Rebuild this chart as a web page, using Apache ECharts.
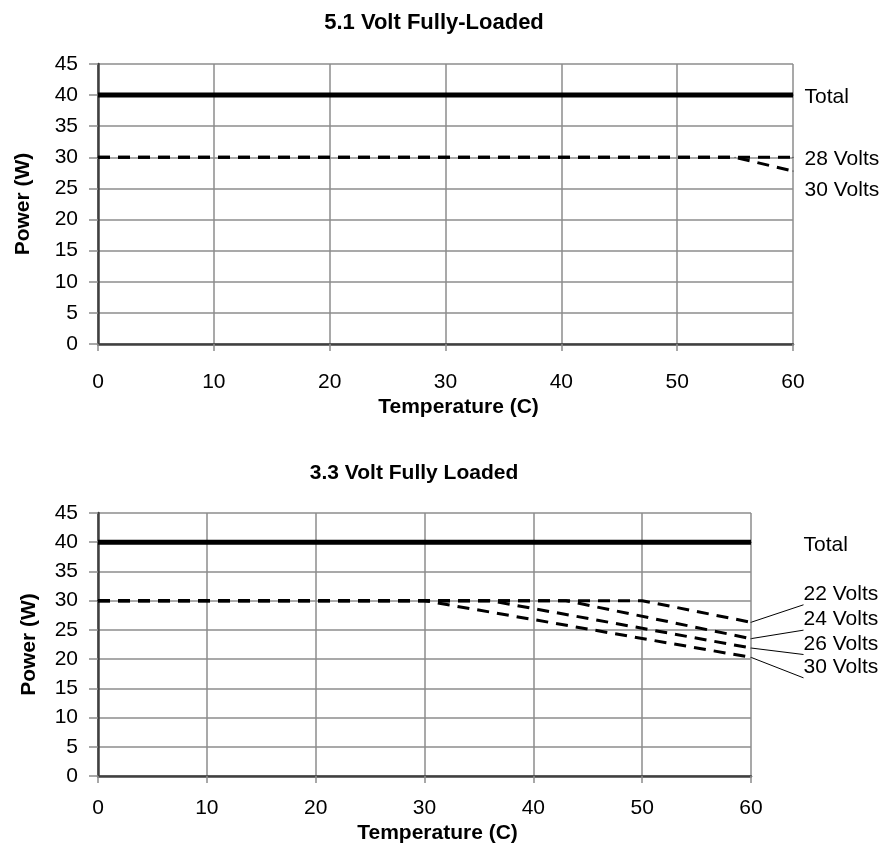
<!DOCTYPE html>
<html><head><meta charset="utf-8">
<script src="https://cdn.jsdelivr.net/npm/echarts@6/dist/echarts.min.js"></script>
<style>html,body{margin:0;padding:0;background:#fff}#c{width:888px;height:846px}</style>
</head><body><div id="c"></div>
<script>
// ---- data ----
const xTickLabels = [0, 10, 20, 30, 40, 50, 60];
const yTickLabels = [0, 5, 10, 15, 20, 25, 30, 35, 40, 45];

const topTitle = '5.1 Volt Fully-Loaded';
const botTitle = '3.3 Volt Fully Loaded';
const xName = 'Temperature (C)';
const yName = 'Power (W)';

// top chart (5.1 V)
const topTotalTemp = [0, 60];
const topTotalPower = [40, 40];
const top28Temp = [0, 60];
const top28Power = [30, 30];
const top30Temp = [0, 55, 60];
const top30Power = [30, 30, 27.8];

// bottom chart (3.3 V)
const botTotalTemp = [0, 60];
const botTotalPower = [40, 40];
const bot22Temp = [0, 50, 60];
const bot22Power = [30, 30, 26.3];
const bot24Temp = [0, 43, 60];
const bot24Power = [30, 30, 23.5];
const bot26Temp = [0, 36, 60];
const bot26Power = [30, 30, 21.9];
const bot30Temp = [0, 30, 60];
const bot30Power = [30, 30, 20.3];

// ---- styles ----
const FONT = 'Liberation Sans';
const solid = {color: '#000', width: 5, type: 'solid'};
const dashed = {color: '#000', width: 3, type: [12, 8]};

function mkSeries(name, xs, ys, gi, style, lab) {
  const data = xs.map((x, i) => {
    const v = [x, ys[i]];
    if (i === xs.length - 1) {
      return {value: v, label: {show: true}};
    }
    return v;
  });
  return {
    type: 'line', name: name, xAxisIndex: gi, yAxisIndex: gi, data: data,
    symbol: 'circle', symbolSize: 1, showSymbol: true, showAllSymbol: true,
    silent: true, animation: false, z: 5,
    lineStyle: style, itemStyle: {color: '#000'},
    emphasis: {disabled: true},
    label: {
      show: false, position: 'right', distance: lab.dist, offset: [0, lab.dy],
      formatter: name, fontSize: 21, color: '#000', fontFamily: FONT
    },
    labelLine: {show: !!lab.leader, lineStyle: {color: '#000', width: 1}}
  };
}

function axes(gi, nameGapX, labelMarginX, nameGapY) {
  const grid = gi;
  const x = {
    type: 'value', gridIndex: grid, min: 0, max: 60, interval: 10,
    name: xName, nameLocation: 'middle', nameGap: nameGapX,
    nameTextStyle: {fontSize: 21, fontWeight: 'bold', color: '#000', fontFamily: FONT, padding: [0, 0, 0, 26]},
    axisLine: {show: true, onZero: false, lineStyle: {color: '#404040', width: 2.5}},
    axisTick: {show: true, length: 7, lineStyle: {color: '#8c8c8c', width: 1.5}},
    axisLabel: {fontSize: 21, color: '#000', fontFamily: FONT, margin: labelMarginX,
      formatter: v => xTickLabels.includes(v) ? String(v) : ''},
    splitLine: {show: true, lineStyle: {color: '#8c8c8c', width: 1.5}}
  };
  const y = {
    type: 'value', gridIndex: grid, min: 0, max: 45, interval: 5,
    name: yName, nameLocation: 'middle', nameGap: nameGapY, nameRotate: 90,
    nameTextStyle: {fontSize: 21, fontWeight: 'bold', color: '#000', fontFamily: FONT, padding: [0, 0, 12, 0]},
    axisLine: {show: true, onZero: false, lineStyle: {color: '#404040', width: 2.5}},
    axisTick: {show: true, length: 9, lineStyle: {color: '#8c8c8c', width: 1.5}},
    axisLabel: {fontSize: 21, color: '#000', fontFamily: FONT, margin: 20,
      formatter: v => yTickLabels.includes(v) ? String(v) : ''},
    splitLine: {show: true, lineStyle: {color: '#8c8c8c', width: 1.5}}
  };
  return [x, y];
}

const [x0, y0] = axes(0, 53, 28, 52);
const [x1, y1] = axes(1, 47, 22, 46);

const option = {
  backgroundColor: '#fff',
  animation: false,
  textStyle: {fontFamily: FONT},
  title: [
    {text: topTitle, left: 434, top: 12, textAlign: 'center', padding: 0,
     textStyle: {fontSize: 22, fontWeight: 'bold', color: '#000', fontFamily: FONT}},
    {text: botTitle, left: 414, top: 463, textAlign: 'center', padding: 0,
     textStyle: {fontSize: 21, fontWeight: 'bold', color: '#000', fontFamily: FONT}}
  ],
  grid: [
    {left: 98, top: 64, width: 695, height: 280, containLabel: false, outerBoundsMode: 'none'},
    {left: 98, top: 513, width: 653, height: 263, containLabel: false, outerBoundsMode: 'none'}
  ],
  xAxis: [x0, x1],
  yAxis: [y0, y1],
  series: [
    mkSeries('Total', topTotalTemp, topTotalPower, 0, solid, {dist: 11, dy: 2}),
    mkSeries('28 Volts', top28Temp, top28Power, 0, dashed, {dist: 11, dy: 2}),
    mkSeries('30 Volts', top30Temp, top30Power, 0, dashed, {dist: 11, dy: 19}),
    mkSeries('Total', botTotalTemp, botTotalPower, 1, solid, {dist: 52, dy: 3}),
    mkSeries('22 Volts', bot22Temp, bot22Power, 1, dashed, {dist: 52, dy: -28, leader: true}),
    mkSeries('24 Volts', bot24Temp, bot24Power, 1, dashed, {dist: 52, dy: -19, leader: true}),
    mkSeries('26 Volts', bot26Temp, bot26Power, 1, dashed, {dist: 52, dy: -4, leader: true}),
    mkSeries('30 Volts', bot30Temp, bot30Power, 1, dashed, {dist: 52, dy: 10, leader: true})
  ]
};

const chart = echarts.init(document.getElementById('c'), null, {renderer: 'canvas'});
chart.setOption(option);
</script>
</body></html>
